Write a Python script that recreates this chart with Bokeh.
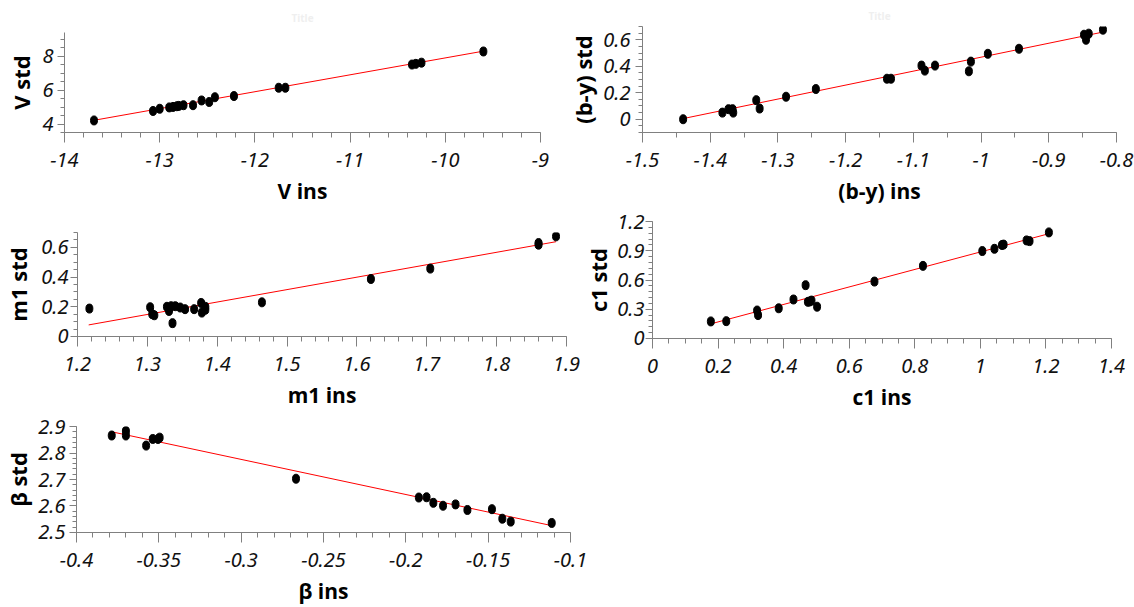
from bokeh.plotting import figure
from bokeh.layouts import column, row
from bokeh.models import SingleIntervalTicker, CustomJSTickFormatter, Range1d
from bokeh.embed import file_html
from bokeh.resources import INLINE

# ---------------- data ----------------
V_ins = [-13.69, -13.07, -13.00, -12.90, -12.86, -12.82, -12.80, -12.75, -12.65, -12.56,
         -12.48, -12.42, -12.22, -11.75, -11.68, -10.35, -10.31, -10.25, -9.60]
V_std = [4.21, 4.77, 4.90, 4.98, 5.01, 5.05, 5.07, 5.11, 5.11, 5.39,
         5.30, 5.58, 5.65, 6.14, 6.14, 7.51, 7.55, 7.62, 8.28]
V_fit_x = [-13.69, -9.60]
V_fit_y = [4.22, 8.30]

by_ins = [-1.440, -1.382, -1.373, -1.367, -1.366, -1.332, -1.327, -1.288, -1.244, -1.139, -1.133,
          -1.088, -1.083, -1.068, -1.018, -1.015, -0.990, -0.944, -0.848, -0.845, -0.841, -0.820]
by_std = [0.000, 0.050, 0.076, 0.076, 0.050, 0.144, 0.081, 0.170, 0.228, 0.306, 0.306,
          0.405, 0.367, 0.405, 0.362, 0.435, 0.494, 0.532, 0.638, 0.600, 0.646, 0.676]
by_fit_x = [-1.44, -0.82]
by_fit_y = [0.005, 0.658]

m1_ins = [1.217, 1.304, 1.307, 1.310, 1.328, 1.331, 1.334, 1.336, 1.340, 1.347, 1.354,
          1.367, 1.377, 1.378, 1.383, 1.383, 1.464, 1.620, 1.705, 1.860, 1.860, 1.885]
m1_std = [0.188, 0.197, 0.150, 0.143, 0.200, 0.172, 0.204, 0.090, 0.204, 0.195, 0.184,
          0.184, 0.226, 0.161, 0.200, 0.180, 0.230, 0.387, 0.457, 0.629, 0.618, 0.674]
m1_fit_x = [1.216, 1.885]
m1_fit_y = [0.078, 0.638]

c1_ins = [0.178, 0.225, 0.319, 0.322, 0.385, 0.430, 0.467, 0.474, 0.480, 0.485,
          0.502, 0.677, 0.825, 1.006, 1.043, 1.066, 1.071, 1.141, 1.150, 1.209]
c1_std = [0.175, 0.178, 0.287, 0.240, 0.310, 0.400, 0.547, 0.376, 0.380, 0.389,
          0.326, 0.584, 0.745, 0.897, 0.920, 0.959, 0.963, 1.006, 0.999, 1.088]
c1_fit_x = [0.172, 1.209]
c1_fit_y = [0.145, 1.075]

beta_ins = [-0.3786, -0.3700, -0.3700, -0.3577, -0.3537, -0.3505, -0.3495, -0.2667, -0.1921,
            -0.1874, -0.1833, -0.1774, -0.1698, -0.1626, -0.1477, -0.1414, -0.1363, -0.1114]
beta_std = [2.866, 2.883, 2.866, 2.828, 2.853, 2.853, 2.858, 2.703, 2.632,
            2.633, 2.612, 2.601, 2.606, 2.585, 2.588, 2.552, 2.541, 2.536]
beta_fit_x = [-0.3786, -0.1114]
beta_fit_y = [2.880, 2.526]

LABEL_FONT = "Open Sans"
TICK_FONT = "Noto Sans"
AXIS_COL = "#808080"
EPS = 1e-6

fmt_code = """
const v = Math.round(tick * 10000) / 10000;
return v.toString().replace('-', '\u2212');
"""


def panel(xs, ys, fx, fy, xr, yr, xint, xminor, yint, yminor, xlabel, ylabel,
          width, height, left, right, top, bottom, title=None, title_offset=0,
          title_standoff=6, ylab_standoff=4, ytick_standoff=4):
    p = figure(width=width, height=height, output_backend="svg", toolbar_location=None,
               x_range=Range1d(xr[0] - EPS, xr[1] + EPS),
               y_range=Range1d(yr[0] - EPS, yr[1] + EPS), title=title,
               min_border_left=left, min_border_right=right,
               min_border_top=top, min_border_bottom=bottom)
    p.outline_line_color = None
    p.grid.visible = False
    p.background_fill_color = "white"
    p.border_fill_color = "white"
    if title:
        p.title.text_color = "#efefef"
        p.title.text_font = LABEL_FONT
        p.title.text_font_size = "10px"
        p.title.align = "center"
        p.title.offset = title_offset
        p.title.standoff = title_standoff

    p.xaxis.ticker = SingleIntervalTicker(interval=xint, num_minor_ticks=xminor)
    p.yaxis.ticker = SingleIntervalTicker(interval=yint, num_minor_ticks=yminor)
    for ax in (p.xaxis[0], p.yaxis[0]):
        ax.formatter = CustomJSTickFormatter(code=fmt_code)
        ax.axis_line_color = AXIS_COL
        ax.major_tick_line_color = AXIS_COL
        ax.minor_tick_line_color = AXIS_COL
        ax.major_tick_in = 0
        ax.minor_tick_in = 0
        ax.major_label_text_font = TICK_FONT
        ax.major_label_text_font_style = "italic"
        ax.major_label_text_font_size = "20px"
        ax.major_label_text_color = "#111111"
        ax.axis_label_text_font = LABEL_FONT
        ax.axis_label_text_font_style = "bold"
        ax.axis_label_text_color = "#000000"
    p.xaxis.major_tick_out = 10
    p.xaxis.minor_tick_out = 5
    p.yaxis.major_tick_out = 7
    p.yaxis.minor_tick_out = 4
    p.xaxis.major_label_standoff = 10
    p.yaxis.major_label_standoff = ytick_standoff
    p.xaxis.axis_label = xlabel
    p.yaxis.axis_label = ylabel
    p.xaxis.axis_label_text_font_size = "21px"
    p.yaxis.axis_label_text_font_size = "22px"
    p.xaxis.axis_label_standoff = 7
    p.yaxis.axis_label_standoff = ylab_standoff

    p.line(fx, fy, line_color="#ff0000", line_width=1)
    p.ellipse(xs, ys, width=7, height=9, width_units="screen", height_units="screen",
              fill_color="black", line_color="black")
    return p


ROW1 = 207
ROW2 = 206

p1 = panel(V_ins, V_std, V_fit_x, V_fit_y, (-14, -9), (3.5, 9.4), 1, 5, 2, 4,
           "V ins", "V std", width=565, height=ROW1, left=64, right=25, top=32, bottom=ROW1 - 136,
           title="Title", title_offset=5, title_standoff=16, ylab_standoff=3, ytick_standoff=4)
p2 = panel(by_ins, by_std, by_fit_x, by_fit_y, (-1.5, -0.8), (-0.1, 0.7), 0.1, 2, 0.2, 4,
           "(b-y) ins", "(b-y) std", width=569, height=ROW1, left=68, right=18, top=26,
           bottom=ROW1 - 132, title="Title", title_offset=7, title_standoff=8,
           ylab_standoff=2, ytick_standoff=5)
p3 = panel(m1_ins, m1_std, m1_fit_x, m1_fit_y, (1.2, 1.9), (0, 0.7), 0.1, 5, 0.2, 4,
           "m1 ins", "m1 std", width=580, height=ROW2, left=75, right=14, top=232 - ROW1,
           bottom=ROW1 + ROW2 - 336, ylab_standoff=5, ytick_standoff=2)
p4 = panel(c1_ins, c1_std, c1_fit_x, c1_fit_y, (0, 1.4), (0, 1.2), 0.2, 4, 0.3, 5,
           "c1 ins", "c1 std", width=554, height=ROW2, left=64, right=23, top=221 - ROW1,
           bottom=ROW1 + ROW2 - 342, ylab_standoff=1, ytick_standoff=1)
p5 = panel(beta_ins, beta_std, beta_fit_x, beta_fit_y, (-0.4, -0.1), (2.5, 2.9), 0.05, 5, 0.1, 5,
           "β ins", "β std", width=600, height=607 - ROW1 - ROW2, left=73, right=30,
           top=426 - ROW1 - ROW2, bottom=607 - 537, ylab_standoff=2, ytick_standoff=4)

layout = column(
    row(column(p1), column(p2)),
    row(column(p3), column(p4)),
    row(column(p5)),
)

open("out.html", "w").write(file_html(layout, INLINE))
